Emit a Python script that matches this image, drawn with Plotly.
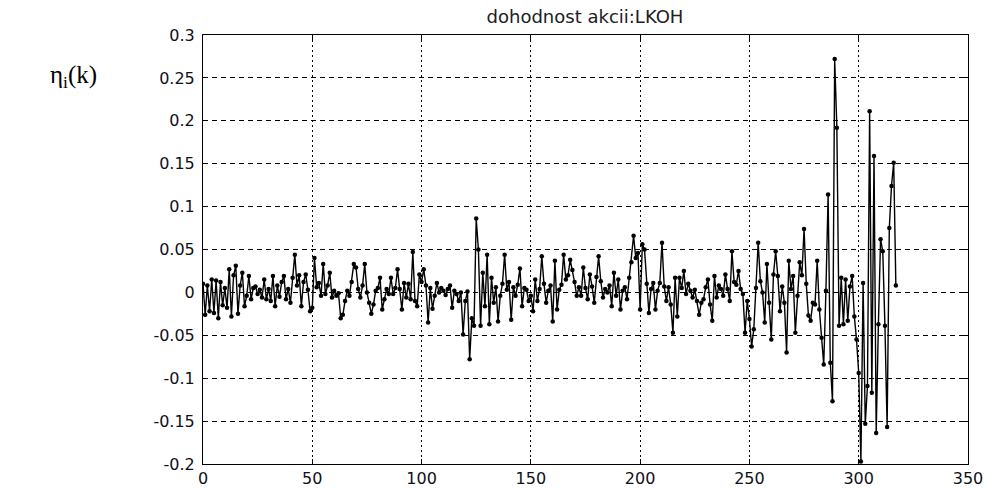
import plotly.graph_objects as go

title_text = "dohodnost akcii:LKOH"
ylabel_text = "η<sub>i</sub>(k)"

returns = [
    0.010, -0.026, 0.008, -0.022, 0.015, -0.024, 0.014, -0.030, 0.012, -0.015,
    0.005, -0.018, 0.027, -0.028, 0.020, 0.031, -0.025, 0.008, 0.023, -0.016,
    -0.004, 0.019, -0.008, 0.005, 0.007, -0.002, 0.003, -0.006, 0.015, -0.008,
    0.004, -0.010, 0.019, -0.016, 0.008, -0.005, 0.012, 0.019, -0.008, 0.004,
    -0.012, 0.017, 0.044, 0.008, 0.020, -0.016, 0.012, 0.021, 0.003, -0.022,
    -0.018, 0.040, 0.006, 0.011, -0.004, 0.033, -0.002, 0.008, 0.023, -0.006,
    0.002, -0.004, -0.001, -0.030, -0.026, -0.010, 0.002, -0.004, 0.012, 0.033,
    0.029, 0.004, -0.006, 0.008, 0.033, 0.000, -0.012, -0.025, -0.014, 0.002,
    0.005, 0.017, -0.020, -0.008, 0.004, -0.002, 0.017, -0.002, 0.005, 0.027,
    0.004, -0.020, 0.011, -0.006, 0.010, -0.008, 0.047, -0.010, -0.016, 0.021,
    0.012, 0.027, 0.008, -0.035, 0.005, -0.019, -0.004, 0.011, 0.000, 0.005,
    0.002, -0.003, 0.004, 0.008, -0.018, 0.002, -0.002, -0.010, 0.000, -0.049,
    -0.010, 0.001, -0.078, -0.030, -0.039, 0.086, 0.050, -0.039, 0.023, -0.016,
    0.044, -0.037, 0.017, -0.012, 0.006, -0.034, -0.004, 0.010, 0.044, 0.003,
    0.012, -0.032, 0.006, -0.004, 0.009, 0.028, -0.016, 0.005, 0.003, -0.010,
    -0.004, -0.022, 0.015, -0.010, 0.004, 0.042, 0.010, -0.012, 0.002, 0.008,
    -0.034, 0.037, -0.020, 0.003, 0.009, 0.044, 0.015, 0.020, 0.038, 0.026,
    0.012, -0.004, 0.006, -0.004, 0.029, 0.005, -0.008, 0.021, 0.007, -0.012,
    0.018, 0.042, 0.013, -0.006, 0.004, 0.000, 0.008, -0.016, 0.023, -0.004,
    0.015, -0.020, 0.002, 0.006, -0.008, 0.017, 0.035, 0.066, 0.040, 0.046,
    -0.020, 0.056, 0.050, 0.010, -0.024, 0.004, 0.011, -0.020, 0.002, 0.011,
    0.058, 0.007, -0.010, 0.006, -0.014, -0.047, 0.017, -0.028, 0.017, 0.005,
    0.025, -0.002, 0.010, 0.002, -0.006, 0.003, -0.010, -0.026, -0.012, -0.008,
    0.006, 0.015, -0.014, -0.033, 0.019, -0.006, 0.008, 0.004, -0.004, 0.021,
    0.004, -0.010, 0.048, 0.012, 0.009, 0.025, 0.004, -0.002, -0.047, -0.010,
    -0.031, -0.063, -0.043, 0.005, 0.058, 0.013, 0.000, -0.035, 0.033, -0.012,
    -0.055, 0.021, 0.048, 0.019, -0.022, 0.007, -0.012, -0.070, 0.037, 0.004,
    0.019, -0.047, -0.004, 0.035, 0.020, 0.074, 0.010, -0.027, -0.033, -0.012,
    -0.014, 0.037, -0.020, -0.053, -0.084, 0.002, 0.114, -0.082, -0.127, 0.272,
    0.192, -0.039, 0.017, -0.037, 0.015, -0.033, 0.007, 0.019, -0.028, -0.055,
    -0.094, -0.197, 0.011, -0.153, -0.109, 0.211, -0.117, 0.159, -0.164, -0.037,
    0.062, 0.048, -0.039, -0.157, 0.075, 0.124, 0.151, 0.008,
]
k = list(range(len(returns)))

x_ticks = [0, 50, 100, 150, 200, 250, 300, 350]
y_ticks = [-0.2, -0.15, -0.1, -0.05, 0, 0.05, 0.1, 0.15, 0.2, 0.25, 0.3]
y_tick_labels = ["-0.2", "-0.15", "-0.1", "-0.05", "0", "0.05", "0.1", "0.15", "0.2", "0.25", "0.3"]

fig = go.Figure()
fig.add_trace(go.Scatter(
    x=k, y=returns, mode="lines+markers",
    line=dict(color="black", width=1.4),
    marker=dict(color="black", size=4.5, symbol="circle"),
    showlegend=False,
))

axis_font = dict(family="DejaVu Sans, Verdana, sans-serif", size=16, color="#101018")
fig.update_layout(
    width=989, height=491,
    margin=dict(l=203, r=21, t=35, b=27),
    paper_bgcolor="white", plot_bgcolor="white",
    title=dict(text=title_text, x=585 / 989, xanchor="center", y=1 - 17 / 491,
               yanchor="middle", font=dict(family="DejaVu Sans, Verdana, sans-serif", size=18, color="#202020")),
    xaxis=dict(range=[0, 350], tickvals=x_ticks, ticktext=[str(v) for v in x_ticks],
               showgrid=True, gridcolor="black", gridwidth=1, griddash="2px,3px",
               showline=True, linecolor="black", linewidth=1, mirror="ticks",
               ticks="inside", ticklen=5, tickcolor="black", zeroline=False,
               tickfont=axis_font, automargin=False),
    yaxis=dict(range=[-0.2, 0.3], tickvals=y_ticks, ticktext=y_tick_labels,
               showgrid=True, gridcolor="black", gridwidth=1, griddash="5px,4px",
               showline=True, linecolor="black", linewidth=1, mirror="ticks",
               ticks="inside", ticklen=5, tickcolor="black", zeroline=False,
               tickfont=axis_font, automargin=False, ticklabelstandoff=4),
    annotations=[dict(text=ylabel_text, xref="paper", yref="paper",
                      x=(48 - 203) / 765, y=(464 - 76) / 429, xanchor="left", yanchor="middle",
                      showarrow=False,
                      font=dict(family="Liberation Serif, Times New Roman, serif", size=25, color="black"))],
)

fig.write_html("out.html", config={"displayModeBar": False},
               post_script="document.body.style.margin='0';")
